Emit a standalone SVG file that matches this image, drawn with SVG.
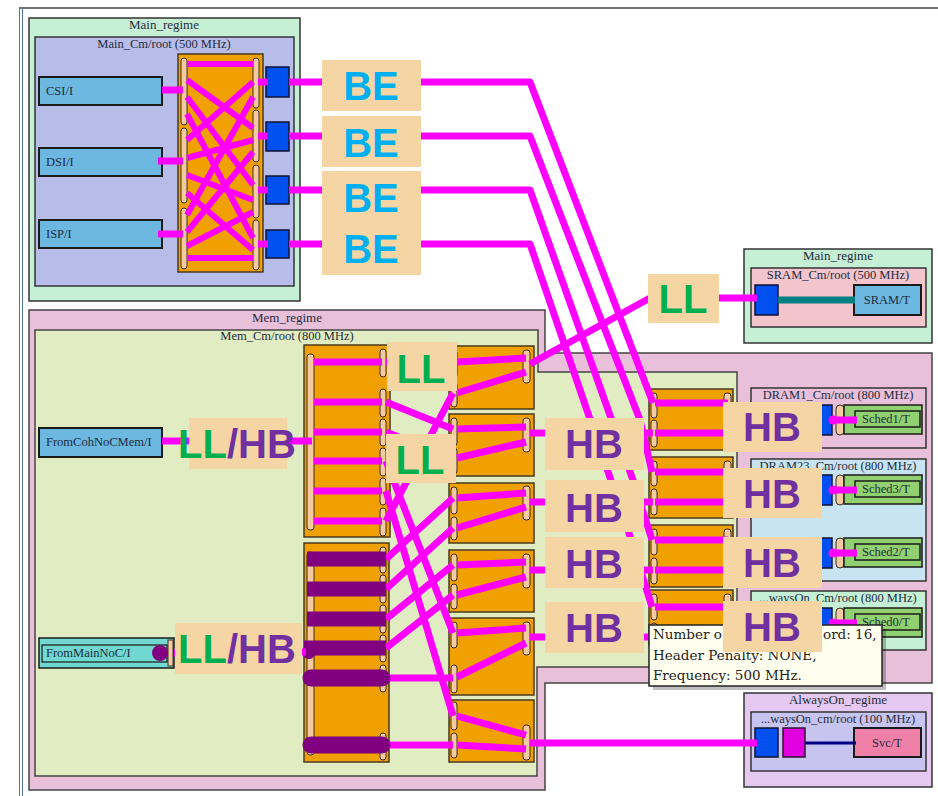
<svg xmlns="http://www.w3.org/2000/svg" width="938" height="796" viewBox="0 0 938 796">
<style>
text{font-family:"Liberation Serif","DejaVu Serif",serif;fill:#1e2c3c}
.rl{font-size:13px;text-anchor:middle}
.cl{font-size:12.5px;text-anchor:middle}
.nt{font-size:12.5px}
.ini{fill:#6cb8e0;stroke:#1a1a1a;stroke-width:2}
.org{fill:#f0a000;stroke:#4a3a20;stroke-width:1.5}
.pch{fill:#f5caa0;stroke:#3a3020;stroke-width:1}
.blu{fill:#0050f0;stroke:#101030;stroke-width:1.5}
.grn{fill:#90d070;stroke:#1a1a1a;stroke-width:1.5}
.mg{stroke:#ff00ff;stroke-width:7;fill:none;stroke-linejoin:round}
.xb{stroke:#ff00ff;stroke-width:6;fill:none}
.pu{stroke:#800080;stroke-width:15;fill:none}
.pur{stroke:#800080;stroke-width:17;fill:none;stroke-linecap:round}
.lbl{fill:#f6d5a5}
.big{font-family:"Liberation Sans",Arial,sans-serif;font-weight:bold;font-size:40px;text-anchor:middle}
.be{fill:#00b0f0}
.hb{fill:#7030a0}
.ll{fill:#00b050}
.tip{font-family:"DejaVu Serif","Liberation Serif",serif;font-size:13.5px;fill:#222}
</style>
<rect x="0" y="0" width="938" height="796" fill="#ffffff"/>
<g id="frame" fill="none">
<line x1="19" y1="8" x2="938" y2="8" stroke="#444" stroke-width="1.5"/>
<line x1="19.5" y1="8" x2="19.5" y2="796" stroke="#5070a0" stroke-width="1"/>
<line x1="22.5" y1="8" x2="22.5" y2="796" stroke="#5070a0" stroke-width="1"/>
</g>

<!-- regimes / clock domains -->
<g id="main-regime">
<rect x="29" y="18" width="271" height="283" fill="#c6f0d6" stroke="#333" stroke-width="1.5"/>
<text class="rl" x="164" y="29">Main_regime</text>
<rect x="35" y="37" width="259" height="249" fill="#b8bce8" stroke="#333" stroke-width="1.5"/>
<text class="cl" x="164" y="48">Main_Cm/root (500 MHz)</text>
</g>
<g id="mem-regime">
<polygon points="29,310 545,310 545,353 932,353 932,683 545,683 545,790 29,790" fill="#e8c0da" stroke="#444" stroke-width="1.5"/>
<text class="rl" x="287" y="322">Mem_regime</text>
<polygon points="35,330 538,330 538,372 737,372 737,667 537,667 537,776 35,776" fill="#e2ecc2" stroke="#444" stroke-width="1.5"/>
<text class="cl" x="287" y="340">Mem_Cm/root (800 MHz)</text>
</g>
<g id="sram-regime">
<rect x="744" y="249" width="188" height="94" fill="#c6f0d6" stroke="#333" stroke-width="1.5"/>
<text class="rl" x="838" y="260">Main_regime</text>
<rect x="751" y="268" width="175" height="59" fill="#f2c4cc" stroke="#333" stroke-width="1.5"/>
<text class="cl" x="838" y="279">SRAM_Cm/root (500 MHz)</text>
</g>
<g id="dram1-cm">
<rect x="751" y="388" width="175" height="60" fill="#e8c0da" stroke="#333" stroke-width="1.5"/>
<text class="cl" x="838" y="399">DRAM1_Cm/root (800 MHz)</text>
</g>
<g id="dram23-cm">
<rect x="751" y="459" width="175" height="122" fill="#c8e4f0" stroke="#333" stroke-width="1.5"/>
<text class="cl" x="838" y="470">DRAM23_Cm/root (800 MHz)</text>
</g>
<g id="dram0-cm">
<rect x="751" y="591" width="175" height="59" fill="#c6f0d6" stroke="#333" stroke-width="1.5"/>
<text class="cl" x="838" y="602">...waysOn_Cm/root (800 MHz)</text>
</g>
<g id="alwayson-regime">
<rect x="744" y="693" width="188" height="94" fill="#e4c8f0" stroke="#333" stroke-width="1.5"/>
<text class="rl" x="838" y="704">AlwaysOn_regime</text>
<rect x="751" y="712" width="175" height="59" fill="#c8c4f0" stroke="#333" stroke-width="1.5"/>
<text class="cl" x="838" y="723">...waysOn_cm/root (100 MHz)</text>
</g>

<!-- nodes -->
<g id="csi"><rect class="ini" x="39" y="77" width="123" height="28"/><text class="nt" x="46" y="95">CSI/I</text></g>
<g id="dsi"><rect class="ini" x="39" y="148" width="123" height="28"/><text class="nt" x="46" y="166">DSI/I</text></g>
<g id="isp"><rect class="ini" x="39" y="220" width="123" height="28"/><text class="nt" x="46" y="238">ISP/I</text></g>

<g id="main-xbar">
<rect class="org" x="178" y="54" width="85" height="218"/>
<rect class="pch" x="181" y="58" width="6" height="67" rx="3"/>
<rect class="pch" x="181" y="128" width="6" height="75" rx="3"/>
<rect class="pch" x="181" y="208" width="6" height="61" rx="3"/>
<rect class="pch" x="253" y="58" width="6" height="50" rx="3"/>
<rect class="pch" x="253" y="110" width="6" height="52" rx="3"/>
<rect class="pch" x="253" y="165" width="6" height="53" rx="3"/>
<rect class="pch" x="253" y="220" width="6" height="50" rx="3"/>
</g>
<g id="main-port1"><rect class="blu" x="266" y="67" width="23" height="30"/></g>
<g id="main-port2"><rect class="blu" x="266" y="122" width="23" height="29"/></g>
<g id="main-port3"><rect class="blu" x="266" y="176" width="23" height="28"/></g>
<g id="main-port4"><rect class="blu" x="266" y="230" width="23" height="28"/></g>

<g id="from-coh"><rect class="ini" x="39" y="428" width="123" height="29"/><text class="nt" x="46" y="446">FromCohNoCMem/I</text></g>
<g id="from-main">
<rect x="39" y="638" width="135" height="30" fill="#70d8d0" stroke="#1a1a1a" stroke-width="1.5"/>
<rect x="42" y="645" width="125" height="17" fill="#70d8d0" stroke="#1a1a1a" stroke-width="1.2"/>
<rect class="pch" x="168" y="640" width="5" height="26"/>
<text class="nt" x="46" y="657">FromMainNoC/I</text>
</g>

<g id="mem-xbar-top">
<rect class="org" x="304" y="345" width="86" height="192"/>
<rect class="pch" x="307" y="354" width="7" height="176" rx="3"/>
<rect class="pch" x="380" y="349" width="6" height="28" rx="3"/>
<rect class="pch" x="380" y="389" width="6" height="28" rx="3"/>
<rect class="pch" x="380" y="419" width="6" height="27" rx="3"/>
<rect class="pch" x="380" y="448" width="6" height="28" rx="3"/>
<rect class="pch" x="380" y="478" width="6" height="27" rx="3"/>
<rect class="pch" x="380" y="508" width="6" height="28" rx="3"/>
</g>
<g id="mem-xbar-bot">
<rect class="org" x="304" y="543" width="85" height="219"/>
<rect class="pch" x="307" y="552" width="7" height="203" rx="3"/>
<rect class="pch" x="380" y="547" width="6" height="26" rx="3"/>
<rect class="pch" x="380" y="575" width="6" height="28" rx="3"/>
<rect class="pch" x="380" y="605" width="6" height="28" rx="3"/>
<rect class="pch" x="380" y="635" width="6" height="27" rx="3"/>
<rect class="pch" x="380" y="665" width="6" height="27" rx="3"/>
<rect class="pch" x="380" y="733" width="6" height="27" rx="3"/>
</g>

<g id="mem-a"><rect class="org" x="449" y="346" width="85" height="63"/><rect class="pch" x="451" y="350" width="6" height="28" rx="3"/><rect class="pch" x="451" y="382" width="6" height="25" rx="3"/><rect class="pch" x="523" y="350" width="7" height="33" rx="3"/></g>
<g id="mem-b"><rect class="org" x="449" y="414" width="85" height="62"/><rect class="pch" x="451" y="418" width="6" height="28" rx="3"/><rect class="pch" x="451" y="448" width="6" height="26" rx="3"/><rect class="pch" x="523" y="418" width="7" height="34" rx="3"/></g>
<g id="mem-c"><rect class="org" x="449" y="483" width="85" height="60"/><rect class="pch" x="451" y="487" width="6" height="27" rx="3"/><rect class="pch" x="451" y="517" width="6" height="23" rx="3"/><rect class="pch" x="523" y="486" width="7" height="34" rx="3"/></g>
<g id="mem-d"><rect class="org" x="449" y="550" width="85" height="62"/><rect class="pch" x="451" y="554" width="6" height="27" rx="3"/><rect class="pch" x="451" y="584" width="6" height="25" rx="3"/><rect class="pch" x="523" y="554" width="7" height="34" rx="3"/></g>
<g id="mem-e"><rect class="org" x="449" y="618" width="85" height="77"/><rect class="pch" x="451" y="622" width="6" height="26" rx="3"/><rect class="pch" x="451" y="665" width="6" height="28" rx="3"/><rect class="pch" x="523" y="622" width="7" height="33" rx="3"/></g>
<g id="mem-f"><rect class="org" x="449" y="700" width="85" height="62"/><rect class="pch" x="451" y="702" width="6" height="28" rx="3"/><rect class="pch" x="451" y="733" width="6" height="25" rx="3"/><rect class="pch" x="523" y="725" width="7" height="35" rx="3"/></g>

<g id="mem-r1"><rect class="org" x="649" y="389" width="84" height="61"/><rect class="pch" x="651" y="393" width="6" height="25" rx="3"/><rect class="pch" x="651" y="420" width="6" height="27" rx="3"/><rect class="pch" x="724" y="393" width="7" height="54" rx="3"/></g>
<g id="mem-r2"><rect class="org" x="649" y="457" width="84" height="61"/><rect class="pch" x="651" y="461" width="6" height="25" rx="3"/><rect class="pch" x="651" y="489" width="6" height="26" rx="3"/><rect class="pch" x="724" y="461" width="7" height="54" rx="3"/></g>
<g id="mem-r3"><rect class="org" x="649" y="525" width="84" height="62"/><rect class="pch" x="651" y="529" width="6" height="26" rx="3"/><rect class="pch" x="651" y="558" width="6" height="26" rx="3"/><rect class="pch" x="724" y="529" width="7" height="55" rx="3"/></g>
<g id="mem-r4"><rect class="org" x="649" y="590" width="84" height="55"/><rect class="pch" x="651" y="594" width="6" height="26" rx="3"/><rect class="pch" x="651" y="623" width="6" height="20" rx="3"/><rect class="pch" x="724" y="594" width="7" height="48" rx="3"/></g>

<g id="sram-port"><rect class="blu" x="755" y="285" width="23" height="30"/></g>
<g id="sram"><rect class="ini" x="854" y="285" width="67" height="30"/><text class="nt" x="887" y="304" text-anchor="middle">SRAM/T</text></g>

<g id="sched1"><rect class="blu" x="808" y="405" width="24" height="30"/><rect class="pch" x="836" y="405" width="8" height="30" rx="4"/><rect class="grn" x="844" y="405" width="78" height="29"/><rect class="grn" x="855" y="411" width="65" height="16"/><text class="nt" x="862" y="423" font-size="12">Sched1/T</text></g>
<g id="sched3"><rect class="blu" x="808" y="475" width="24" height="30"/><rect class="pch" x="836" y="475" width="8" height="30" rx="4"/><rect class="grn" x="844" y="475" width="78" height="29"/><rect class="grn" x="855" y="481" width="65" height="16"/><text class="nt" x="862" y="493" font-size="12">Sched3/T</text></g>
<g id="sched2"><rect class="blu" x="808" y="538" width="24" height="30"/><rect class="pch" x="836" y="538" width="8" height="30" rx="4"/><rect class="grn" x="844" y="538" width="78" height="29"/><rect class="grn" x="855" y="544" width="65" height="16"/><text class="nt" x="862" y="556" font-size="12">Sched2/T</text></g>
<g id="sched0"><rect class="blu" x="808" y="608" width="24" height="30"/><rect class="pch" x="836" y="608" width="8" height="30" rx="4"/><rect class="grn" x="844" y="608" width="78" height="29"/><rect class="grn" x="855" y="614" width="65" height="16"/><text class="nt" x="862" y="626" font-size="12">Sched0/T</text></g>

<g id="svc-ports"><rect class="blu" x="755" y="728" width="23" height="29"/><rect x="783" y="728" width="22" height="29" fill="#e000e0" stroke="#301030" stroke-width="1.5"/></g>
<g id="svc"><rect x="854" y="728" width="67" height="29" fill="#f080a8" stroke="#1a1a1a" stroke-width="2"/><text class="nt" x="887" y="747" text-anchor="middle">Svc/T</text></g>

<!-- connectors -->
<g id="connectors">
<path class="mg" d="M162,90H183M158,161H183M158,234H183"/>
<path class="xb" d="M187,64H253M187,80L253,128M187,97L253,185M187,114L253,238M187,140L253,82M187,158L253,140M187,175L253,200M187,193L253,250M187,215L253,97M187,232L253,152M187,246L253,212M187,258H253"/>
<path class="mg" d="M258,82H268M258,136H268M258,190H268M258,244H268"/>
<path class="mg" d="M289,82H530L648,390L653,403"/>
<path class="mg" d="M289,136H530L640,420L652,472"/>
<path class="mg" d="M289,190H530L633,480L652,540"/>
<path class="mg" d="M289,244H530L628,530L652,607"/>
<path stroke="#008080" stroke-width="7" fill="none" d="M778,300H855"/>
<path class="mg" d="M530,364L650,298H757"/>
<path class="mg" d="M162,441H312"/>
<path class="mg" d="M314,362H382M314,402H382M314,432H382M314,461H382M314,491H382M314,521H382"/>
<path class="mg" d="M386,362H453M386,402L453,429M386,432L453,458M386,461L453,633M386,491L453,716M386,521L453,393M386,559L453,498M386,589L453,528M386,619L453,565M386,648L453,595M386,678H453M386,745H453"/>
<path class="pu" d="M307,559H386M307,589H386M307,619H386M304,648H386"/>
<path class="pur" d="M311,678H382M311,745H382"/>
<circle cx="160" cy="653" r="8" fill="#800080"/>
<circle cx="309" cy="652" r="7" fill="#800080"/>
<path class="mg" d="M174,653H178M302,652H306"/>
<path class="mg" d="M457,362L526,358M457,393L526,372M457,429L526,427M457,458L526,442M457,498L526,493M457,528L526,507M457,565L526,562M457,595L526,577M457,633L526,628M457,677L526,643M457,716L526,735M457,745L526,749"/>
<path class="mg" d="M530,433H653M530,502H653M530,570H653M530,637H653"/>
<path class="mg" d="M530,743H757"/>
<path class="mg" d="M655,403H728M655,433H728M655,472H728M655,502H728M655,540H728M655,570H728M655,607H728M655,637H728"/>
<path class="mg" d="M730,419H810M730,490H810M730,552H810M730,622H810"/>
<path class="mg" d="M832,420H857M832,490H857M832,553H857M832,623H857"/>
<circle cx="833" cy="420" r="4.5" fill="#ff00ff"/><circle cx="833" cy="490" r="4.5" fill="#ff00ff"/><circle cx="833" cy="553" r="4.5" fill="#ff00ff"/><circle cx="833" cy="623" r="4.5" fill="#ff00ff"/>
<path stroke="#000080" stroke-width="3" fill="none" d="M805,743H856"/>
</g>

<!-- tooltip -->
<g id="tooltip">
<rect x="653" y="629" width="233" height="61" fill="#000" opacity="0.25"/>
<rect x="649" y="625" width="233" height="61" fill="#fffff0" stroke="#222" stroke-width="1.5"/>
<text class="tip" x="653" y="639">Number o</text>
<text class="tip" x="823" y="639">ord: 16,</text>
<text class="tip" x="653" y="660">Header Penalty: NONE,</text>
<text class="tip" x="653" y="680">Frequency: 500 MHz.</text>
</g>

<!-- traffic class labels -->
<g id="labels">
<rect class="lbl" x="322" y="60" width="99" height="51"/><text class="big be" x="371" y="100">BE</text>
<rect class="lbl" x="322" y="116" width="99" height="51"/><text class="big be" x="371" y="157">BE</text>
<rect class="lbl" x="322" y="171" width="99" height="52"/><text class="big be" x="371" y="212">BE</text>
<rect class="lbl" x="322" y="222" width="99" height="53"/><text class="big be" x="371" y="263">BE</text>
<rect class="lbl" x="648" y="274" width="71" height="49"/><text class="big ll" x="683" y="313">LL</text>
<rect class="lbl" x="387" y="342" width="70" height="49"/><text class="big ll" x="421" y="383">LL</text>
<rect class="lbl" x="386" y="434" width="70" height="49"/><text class="big ll" x="420" y="474">LL</text>
<rect class="lbl" x="189" y="418" width="98" height="51"/><text class="big" x="237" y="458"><tspan class="ll">LL</tspan><tspan class="hb">/HB</tspan></text>
<rect class="lbl" x="175" y="623" width="127" height="51"/><text class="big" x="237" y="663"><tspan class="ll">LL</tspan><tspan class="hb">/HB</tspan></text>
<rect class="lbl" x="545" y="418" width="99" height="52"/><text class="big hb" x="594" y="458">HB</text>
<rect class="lbl" x="545" y="480" width="99" height="52"/><text class="big hb" x="594" y="522">HB</text>
<rect class="lbl" x="545" y="537" width="99" height="51"/><text class="big hb" x="594" y="578">HB</text>
<rect class="lbl" x="545" y="602" width="99" height="51"/><text class="big hb" x="594" y="642">HB</text>
<rect class="lbl" x="723" y="402" width="99" height="50"/><text class="big hb" x="772" y="441">HB</text>
<rect class="lbl" x="723" y="468" width="99" height="50"/><text class="big hb" x="772" y="508">HB</text>
<rect class="lbl" x="723" y="537" width="99" height="51"/><text class="big hb" x="772" y="577">HB</text>
<rect class="lbl" x="723" y="601" width="99" height="51"/><text class="big hb" x="772" y="641">HB</text>
</g>
</svg>
